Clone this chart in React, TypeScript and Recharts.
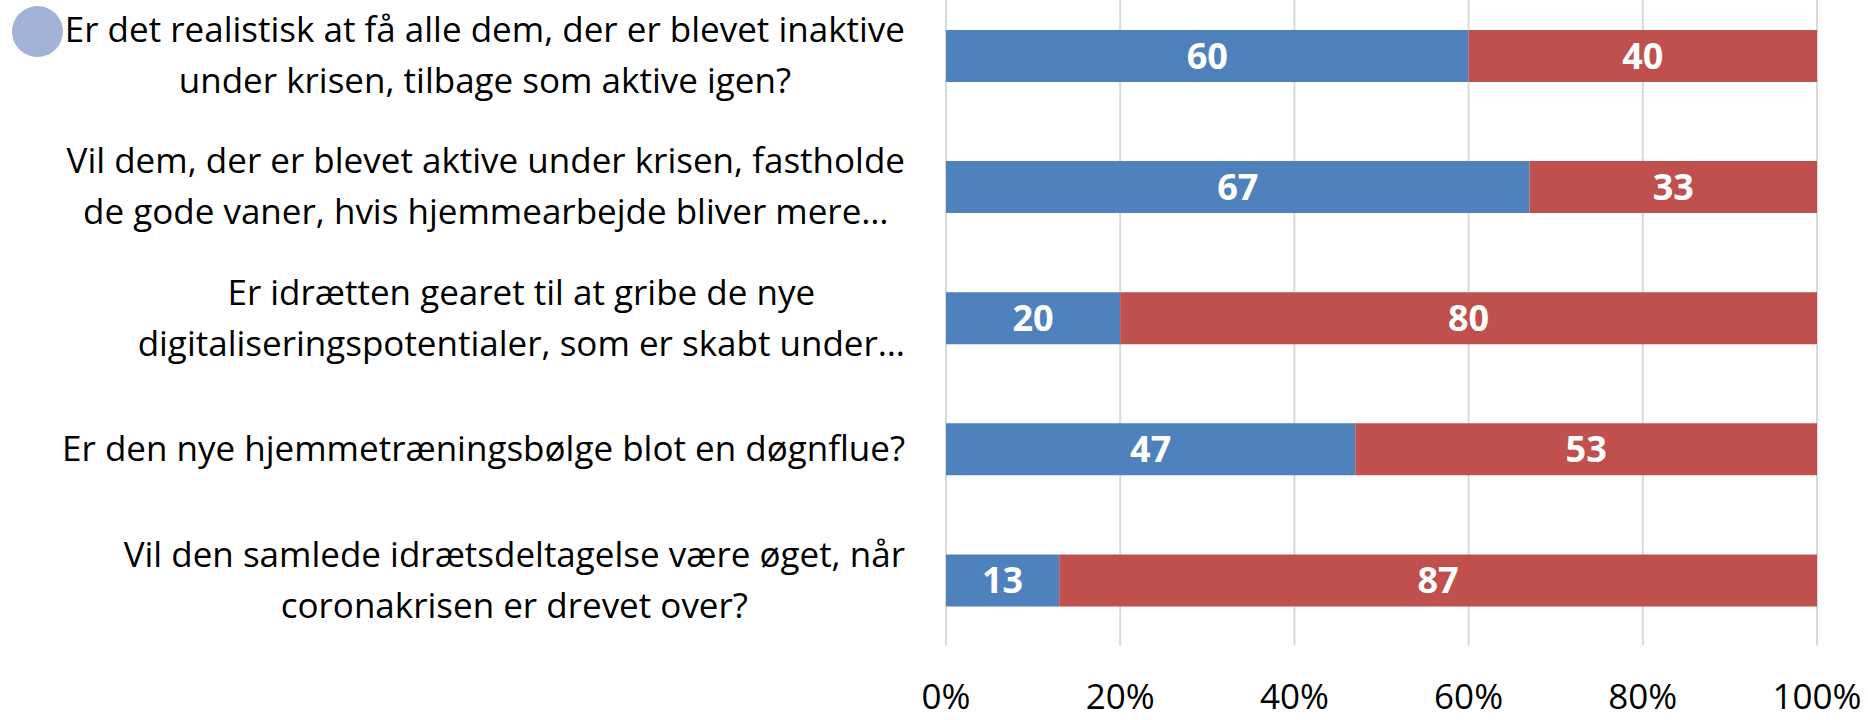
import React from "react";
import { BarChart, Bar, XAxis, YAxis, CartesianGrid, LabelList } from "recharts";

// questions, one entry per bar, "\n" marks the line break in the axis label
const questions = [
  "Er det realistisk at få alle dem, der er blevet inaktive\nunder krisen, tilbage som aktive igen?",
  "Vil dem, der er blevet aktive under krisen, fastholde\nde gode vaner, hvis hjemmearbejde bliver mere…",
  "Er idrætten gearet til at gribe de nye\ndigitaliseringspotentialer, som er skabt under…",
  "Er den nye hjemmetræningsbølge blot en døgnflue?",
  "Vil den samlede idrætsdeltagelse være øget, når\ncoronakrisen er drevet over?",
];
const yesShare = [60, 67, 20, 47, 13];
const noShare = [40, 33, 80, 53, 87];
const pctTicks = [0, 20, 40, 60, 80, 100];

const FONT = "'Open Sans', 'Noto Sans', sans-serif";
const BLUE = "#4f81bd";
const RED = "#c0504d";
const FS = 35;

const data = questions.map((q, i) => ({ q, yes: yesShare[i], no: noShare[i] }));

let ctx: CanvasRenderingContext2D | null = null;
function textWidth(s: string, font: string) {
  if (!ctx) ctx = document.createElement("canvas").getContext("2d");
  if (!ctx) return s.length * 18;
  ctx.font = font;
  return ctx.measureText(s).width;
}

function QuestionTick(props: any) {
  const { x, y, payload } = props;
  const lines = String(payload.value).split("\n");
  const maxW = Math.max(...lines.map((l) => textWidth(l, `${FS}px ${FONT}`)));
  const cx = x - maxW / 2;
  const lh = 51;
  const y0 = y - ((lines.length - 1) * lh) / 2;
  return (
    <text textAnchor="middle" fontSize={FS} fontFamily={FONT} fill="#000">
      {lines.map((l, i) => (
        <tspan key={i} x={cx} y={y0 + i * lh} dy="0.35em">
          {l}
        </tspan>
      ))}
    </text>
  );
}

function PctTick(props: any) {
  const { x, y, payload } = props;
  return (
    <text x={x} y={y + 51} dy="0.35em" textAnchor="middle" fontSize={FS} fontFamily={FONT} fill="#000">
      {payload.value}%
    </text>
  );
}

function ValueLabel(props: any) {
  const { x, y, width, height, value } = props;
  return (
    <text
      x={x + width / 2}
      y={y + height / 2}
      dy="0.36em"
      textAnchor="middle"
      fontSize={36}
      fontWeight={700}
      fontFamily={FONT}
      fill="#fff"
    >
      {value}
    </text>
  );
}

export default function App() {
  return (
    <div style={{ position: "absolute", left: 0, top: -10, width: 1868, height: 730 }}>
      <div
        style={{
          position: "absolute",
          left: 12,
          top: 16,
          width: 51,
          height: 51,
          borderRadius: "50%",
          background: "#a3b3d8",
        }}
      />
      <BarChart
        width={1868}
        height={730}
        layout="vertical"
        data={data}
        margin={{ top: 0, right: 51, bottom: 0, left: 0 }}
        barSize={52}
      >
        <CartesianGrid horizontal={false} vertical stroke="#d9d9d9" strokeWidth={2} />
        <XAxis
          type="number"
          domain={[0, 100]}
          ticks={pctTicks}
          height={74.5}
          axisLine={false}
          tickLine={false}
          tickSize={0}
          tickMargin={0}
          tick={<PctTick />}
          interval={0}
        />
        <YAxis
          type="category"
          dataKey="q"
          width={946}
          axisLine={false}
          tickLine={false}
          tickSize={0}
          tickMargin={41}
          tick={<QuestionTick />}
          interval={0}
        />
        <Bar dataKey="yes" stackId="a" fill={BLUE} isAnimationActive={false}>
          <LabelList dataKey="yes" content={<ValueLabel />} />
        </Bar>
        <Bar dataKey="no" stackId="a" fill={RED} isAnimationActive={false}>
          <LabelList dataKey="no" content={<ValueLabel />} />
        </Bar>
      </BarChart>
    </div>
  );
}
